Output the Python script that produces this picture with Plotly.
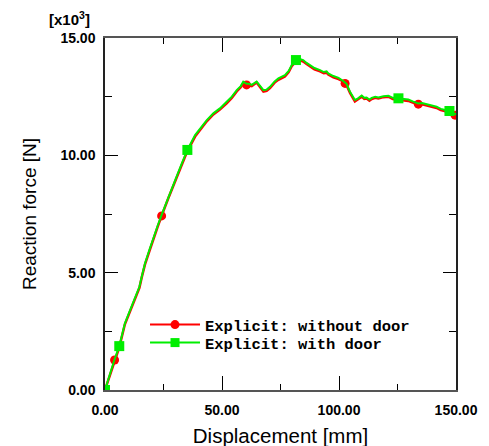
import numpy as np
import plotly.graph_objects as go

# ---- data (displacement in mm, reaction force in kN i.e. x10^3 N) ----
with_door_x = [0, 2, 4, 6.1, 8.5, 10.3, 12.1, 13.5, 14.7, 15.7, 17.1, 19.2, 21, 22.5, 24.2, 25.8,
               27.1, 29, 30.6, 32.8, 35.2, 38.5, 41, 43.5, 46.3, 49.1, 52.0, 54.2, 56.3, 58, 59.1,
               60.5, 61.5, 62.7, 64.8, 66.3, 67.7, 69.1, 70.5, 72.5, 74.1, 76.9, 78.5, 79.8, 81.6,
               83.3, 84.7, 86, 87.6, 89.5, 91.9, 93.5, 94.7, 95.4, 97.6, 99.8, 101.8, 103.2, 104.7,
               106, 106.8, 108, 109.7, 110.8, 111.8, 113, 114.0, 115.5, 116.8, 119, 121.1, 123,
               125.4, 127.5, 129.6, 131.5, 133.9, 135.5, 137.5, 139.5, 141.7, 143.5, 145, 147.2,
               148.5, 150]
with_door_y = [0, 0.65, 1.28, 1.87, 2.84, 3.3, 3.76, 4.1, 4.40, 4.83, 5.40, 6.04, 6.6, 7.0, 7.46,
               7.85, 8.24, 8.7, 9.09, 9.65, 10.23, 10.86, 11.2, 11.5, 11.79, 12.0, 12.28, 12.5,
               12.78, 12.95, 13.14, 13.05, 13.05, 13.0, 13.14, 12.95, 12.78, 12.8, 12.92, 13.15,
               13.28, 13.42, 13.6, 13.85, 14.06, 14.1, 14.06, 13.95, 13.85, 13.72, 13.63, 13.55,
               13.58, 13.49, 13.38, 13.3, 13.17, 13.05, 12.71, 12.45, 12.36, 12.42, 12.55, 12.45,
               12.46, 12.38, 12.45, 12.5, 12.47, 12.52, 12.54, 12.45, 12.43, 12.4, 12.38, 12.3,
               12.21, 12.23, 12.17, 12.12, 12.07, 11.98, 11.95, 11.89, 11.8, 11.75]

without_door_x = with_door_x
without_door_y = [0, 0.62, 1.25, 1.82, 2.8, 3.25, 3.72, 4.05, 4.35, 4.8, 5.35, 5.98, 6.55, 6.95,
                  7.42, 7.8, 8.18, 8.65, 9.05, 9.6, 10.18, 10.8, 11.15, 11.45, 11.74, 11.95, 12.22,
                  12.45, 12.72, 12.9, 13.08, 13.0, 12.98, 12.95, 13.1, 12.9, 12.72, 12.75, 12.86,
                  13.1, 13.22, 13.36, 13.55, 13.8, 14.0, 14.05, 14.0, 13.9, 13.8, 13.66, 13.58,
                  13.5, 13.52, 13.44, 13.32, 13.25, 13.15, 13.0, 12.66, 12.4, 12.3, 12.38, 12.5,
                  12.4, 12.42, 12.33, 12.4, 12.45, 12.42, 12.48, 12.5, 12.4, 12.38, 12.35, 12.32,
                  12.25, 12.18, 12.18, 12.12, 12.07, 12.02, 11.93, 11.9, 11.83, 11.75, 11.7]

with_door_marker_x = [0, 6.1, 35.2, 81.6, 125.4, 147.2]
without_door_marker_x = [4.1, 24.2, 60.5, 102.6, 133.9, 149.6]

x_ticks = [0, 50, 100, 150]
x_tick_labels = ["<b>0.00</b>", "<b>50.00</b>", "<b>100.00</b>", "<b>150.00</b>"]
y_ticks = [0, 5, 10, 15]
y_tick_labels = ["<b>0.00</b>", "<b>5.00</b>", "<b>10.00</b>", "<b>15.00</b>"]

RED = "#ff0000"
GREEN = "#00ee00"

fig = go.Figure()

# red series
fig.add_trace(go.Scatter(x=without_door_x, y=without_door_y, mode="lines",
                         line=dict(color=RED, width=2.5), showlegend=False, hoverinfo="skip"))
fig.add_trace(go.Scatter(x=without_door_marker_x,
                         y=np.interp(without_door_marker_x, without_door_x, without_door_y),
                         mode="markers", marker=dict(color=RED, size=9, symbol="circle"),
                         showlegend=False))
# green series
fig.add_trace(go.Scatter(x=with_door_x, y=with_door_y, mode="lines",
                         line=dict(color=GREEN, width=2), showlegend=False, hoverinfo="skip"))
fig.add_trace(go.Scatter(x=with_door_marker_x,
                         y=np.interp(with_door_marker_x, with_door_x, with_door_y),
                         mode="markers", marker=dict(color=GREEN, size=10, symbol="square"),
                         showlegend=False))

# legend entries
fig.add_trace(go.Scatter(x=[None], y=[None], mode="lines+markers", name="<b>Explicit: without door</b>",
                         line=dict(color=RED, width=2), marker=dict(color=RED, size=9, symbol="circle"),
                         legend="legend"))
fig.add_trace(go.Scatter(x=[None], y=[None], mode="lines+markers", name="<b>Explicit: with door</b>",
                         line=dict(color=GREEN, width=2), marker=dict(color=GREEN, size=9, symbol="square"),
                         legend="legend2"))

axis_font = dict(family="Liberation Sans, Arial, sans-serif", size=14, color="black")

fig.update_xaxes(range=[0, 150], tickvals=x_ticks, ticktext=x_tick_labels,
                 ticks="inside", ticklen=14, tickwidth=1, tickcolor="black",
                 minor=dict(tickvals=[25, 75, 125], ticks="inside", ticklen=6, tickcolor="black"),
                 showline=True, linecolor="#555555", linewidth=1.5, mirror="ticks",
                 showgrid=False, zeroline=False, ticklabelstandoff=6, automargin=False,
                 tickfont=axis_font,
                 title=dict(text="Displacement [mm]", standoff=12,
                            font=dict(family="Liberation Sans, Arial, sans-serif", size=20.5, color="black")))
fig.update_yaxes(range=[0, 15], tickvals=y_ticks, ticktext=y_tick_labels,
                 ticks="inside", ticklen=13, tickwidth=1, tickcolor="black",
                 minor=dict(tickvals=[2.5, 7.5, 12.5], ticks="inside", ticklen=7, tickcolor="black"),
                 showline=True, linecolor="#222222", linewidth=1.5, mirror="ticks",
                 showgrid=False, zeroline=False, ticklabelstandoff=5, automargin=False,
                 tickfont=axis_font,
                 title=dict(text="Reaction force [N]", standoff=19,
                            font=dict(family="Liberation Sans, Arial, sans-serif", size=19, color="black")))

fig.add_annotation(text="<b>[x10<sup>3</sup>]</b>", xref="paper", yref="paper",
                   x=-0.037, y=1.0, xanchor="right", yanchor="bottom", showarrow=False,
                   font=dict(family="Liberation Sans, Arial, sans-serif", size=15, color="black"),
                   yshift=8)

legend_font = dict(family="Liberation Mono, Courier New, monospace", size=15.5, color="black")
fig.update_layout(
    width=489, height=446,
    margin=dict(l=97, r=41, t=30, b=64),
    plot_bgcolor="white", paper_bgcolor="white",
    legend=dict(x=0.114, y=0.1847, xanchor="left", yanchor="middle", bgcolor="rgba(0,0,0,0)",
                font=legend_font, itemwidth=50),
    legend2=dict(x=0.114, y=0.1335, xanchor="left", yanchor="middle", bgcolor="rgba(0,0,0,0)",
                 font=legend_font, itemwidth=50),
    font=dict(family="Liberation Sans, Arial, sans-serif"),
)

fig.write_html("out.html")
